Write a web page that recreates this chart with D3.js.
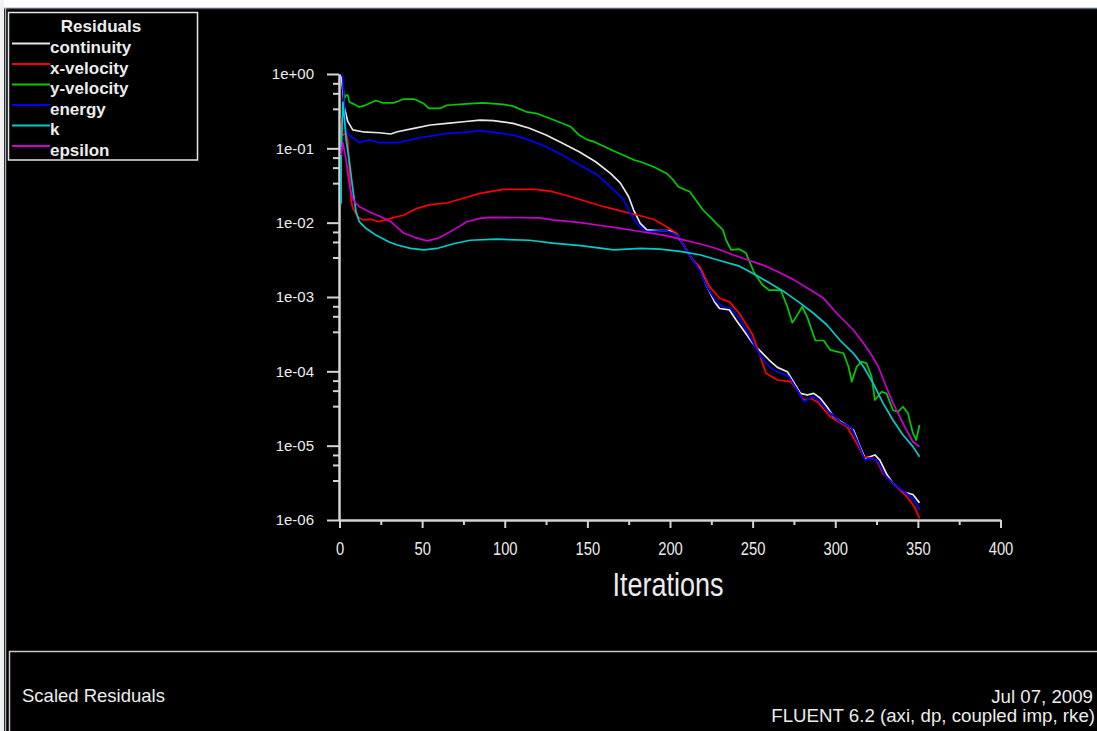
<!DOCTYPE html>
<html>
<head>
<meta charset="utf-8">
<script src="https://cdn.jsdelivr.net/npm/d3@7"></script>
<style>
  html, body { margin: 0; padding: 0; background: #000; }
  svg { display: block; }
  text { font-family: "Liberation Sans", Arial, sans-serif; }
</style>
</head>
<body>
<svg id="chart" width="1097" height="731"></svg>
<script>
// Scaled residual histories, [iteration, residual]
const continuity = [
  [1,1.0],[2,0.6],[3,0.35],[5,0.23],[8,0.177],[14,0.167],[24,0.162],[31,0.156],[35,0.167],
  [45,0.186],[55,0.206],[65,0.217],[75,0.228],[85,0.24],[93,0.236],[105,0.217],[115,0.186],
  [125,0.151],[135,0.117],[145,0.09],[155,0.066],[164,0.046],[170,0.034],[175,0.0223],
  [178,0.0148],[182,0.0098],[186,0.008],[192,0.0078],[200,0.0078],[204,0.007],[210,0.0043],
  [214,0.0031],[218,0.00243],[222,0.00145],[227,0.00086],[230,0.0007],[236,0.00067],
  [240,0.00049],[246,0.00032],[250,0.00024],[254,0.000194],[260,0.000142],[265,0.000113],
  [271,0.0000989],[274,0.0000764],[279,0.0000506],[283,0.000048],[287,0.0000506],
  [291,0.0000434],[295,0.0000334],[299,0.0000245],[305,0.00002],[311,0.0000163],
  [315,0.0000097],[318,0.0000068],[321,0.0000071],[324,0.0000075],[327,0.0000064],
  [331,0.0000042],[335,0.0000031],[341,0.0000024],[347,0.0000022],[351,0.0000017]
];
const xVelocity = [
  [1,0.25],[2,0.15],[4,0.16],[5,0.13],[6,0.05],[7,0.02],[8,0.016],[11,0.012],[14,0.0109],
  [19,0.0111],[24,0.0103],[31,0.0114],[39,0.0127],[47,0.0156],[55,0.0175],[65,0.0184],
  [75,0.0213],[85,0.0248],[99,0.0281],[119,0.0281],[129,0.0261],[140,0.0223],[150,0.0191],
  [160,0.0164],[170,0.0144],[180,0.0127],[190,0.0111],[198,0.0088],[204,0.0072],[210,0.0043],
  [214,0.0031],[218,0.00256],[224,0.00138],[230,0.00096],[236,0.00086],[242,0.0006],
  [250,0.00031],[254,0.000175],[258,0.000094],[265,0.0000764],[273,0.0000726],
  [277,0.0000561],[281,0.0000411],[285,0.0000434],[289,0.0000391],[297,0.0000245],
  [307,0.000018],[313,0.0000107],[317,0.0000071],[321,0.0000068],[325,0.0000064],
  [329,0.0000042],[335,0.0000031],[343,0.0000021],[348,0.0000015],[351,0.00000105]
];
const yVelocity = [
  [2,0.71],[3,0.47],[4,0.52],[5,0.52],[6,0.42],[8,0.4],[12,0.36],[15,0.375],[22,0.44],
  [26,0.41],[33,0.41],[39,0.46],[45,0.46],[51,0.4],[54,0.345],[61,0.345],[65,0.38],[79,0.4],
  [87,0.41],[99,0.39],[105,0.37],[113,0.31],[119,0.296],[129,0.244],[140,0.195],[145,0.151],
  [150,0.13],[154,0.123],[166,0.092],[178,0.07],[182,0.066],[190,0.0566],[194,0.051],
  [198,0.046],[202,0.0375],[205,0.0305],[212,0.0261],[220,0.0148],[226,0.0109],[228,0.0098],
  [232,0.008],[234,0.0058],[237,0.0043],[242,0.0044],[246,0.0039],[251,0.0021],[256,0.00145],
  [260,0.00124],[267,0.00124],[271,0.00074],[274,0.00045],[277,0.00057],[280,0.00074],
  [283,0.00054],[288,0.00026],[293,0.00026],[297,0.000194],[301,0.000184],[305,0.000175],
  [308,0.000116],[310,0.0000726],[313,0.000116],[316,0.000135],[319,0.000128],
  [322,0.0000848],[324,0.0000411],[328,0.0000532],[331,0.0000506],[335,0.00003],
  [338,0.0000286],[341,0.0000334],[344,0.0000272],[347,0.0000147],[349,0.0000119],
  [351,0.000019]
];
const energy = [
  [1,1.0],[2,0.9],[3,0.3],[4,0.168],[7,0.144],[12,0.12],[18,0.13],[24,0.119],[35,0.119],
  [43,0.13],[49,0.14],[55,0.146],[59,0.151],[65,0.159],[75,0.164],[85,0.173],[95,0.163],
  [105,0.151],[115,0.129],[125,0.105],[135,0.081],[145,0.06],[156,0.044],[166,0.0275],
  [172,0.0202],[176,0.0134],[180,0.0098],[184,0.008],[186,0.0076],[198,0.0078],[202,0.0072],
  [205,0.0065],[210,0.0043],[214,0.0031],[218,0.0023],[223,0.0013],[228,0.00086],
  [232,0.00074],[237,0.0007],[242,0.00052],[250,0.00025],[255,0.000157],[261,0.00011],
  [267,0.000094],[272,0.0000848],[277,0.0000561],[281,0.0000391],[286,0.0000456],
  [290,0.0000411],[296,0.0000286],[303,0.000021],[310,0.0000171],[314,0.0000107],
  [318,0.0000064],[322,0.0000068],[326,0.0000061],[330,0.000004],[336,0.00000296],
  [343,0.00000229],[348,0.00000186],[351,0.00000136]
];
const kResidual = [
  [1,0.018],[1,0.077],[2,0.42],[3,0.25],[4,0.13],[6,0.066],[8,0.029],[10,0.014],[12,0.0103],
  [16,0.0084],[22,0.0068],[30,0.0055],[35,0.005],[43,0.0045],[51,0.0043],[59,0.0045],
  [69,0.0052],[79,0.0058],[95,0.006],[115,0.0058],[129,0.0053],[146,0.0049],[166,0.0043],
  [182,0.0045],[194,0.0044],[206,0.0041],[218,0.0037],[230,0.0031],[242,0.0026],[248,0.0022],
  [259,0.0016],[269,0.00118],[279,0.00082],[287,0.0006],[295,0.00042],[303,0.00026],
  [311,0.000175],[317,0.000116],[323,0.000069],[329,0.000037],[335,0.000022],
  [341,0.0000139],[347,0.0000097],[351,0.0000071]
];
const epsilon = [
  [1,0.081],[2,0.12],[4,0.07],[6,0.032],[8,0.021],[10,0.018],[12,0.0164],[18,0.014],
  [25,0.012],[31,0.0103],[39,0.0072],[45,0.0064],[53,0.0057],[60,0.0062],[69,0.008],
  [77,0.0103],[85,0.0114],[91,0.0118],[121,0.0116],[129,0.0109],[146,0.01],[156,0.0093],
  [170,0.0084],[182,0.0076],[196,0.0068],[206,0.006],[218,0.0052],[228,0.0045],[238,0.0037],
  [248,0.0031],[258,0.0026],[265,0.0022],[275,0.0017],[285,0.00124],[293,0.00096],
  [301,0.0006],[311,0.00036],[317,0.00024],[322,0.000166],[326,0.000116],[330,0.000069],
  [335,0.000037],[339,0.0000245],[343,0.0000163],[347,0.0000113],[351,0.0000097]
];

const seriesNames  = ["continuity", "x-velocity", "y-velocity", "energy", "k", "epsilon"];
const seriesData   = [continuity, xVelocity, yVelocity, energy, kResidual, epsilon];
const seriesColors = ["#e8e8e8", "#ff0000", "#00cc00", "#0000ff", "#00cccc", "#cc00cc"];

const xTicks = [0, 50, 100, 150, 200, 250, 300, 350, 400];
const xMinorTicks = [25, 75, 125, 175, 225, 275, 325, 375];
const yTicks = [1e0, 1e-1, 1e-2, 1e-3, 1e-4, 1e-5, 1e-6];
const yMinorFactors = [7.5, 5.5, 3.4];

const svg = d3.select("#chart");
const W = 1097, H = 731;
const axisColor = "#d4d4d4";
const textColor = "#ececec";

// window frame
svg.append("rect").attr("x", 0).attr("y", 0).attr("width", W).attr("height", 8).attr("fill", "#ffffff");
svg.append("rect").attr("x", 0).attr("y", 0).attr("width", 4).attr("height", H).attr("fill", "#f0f0f0");
svg.append("line").attr("x1", 4).attr("x2", W).attr("y1", 8.5).attr("y2", 8.5)
  .attr("stroke", "#5a6470").attr("stroke-width", 1.5);
svg.append("line").attr("x1", 5.5).attr("x2", 5.5).attr("y1", 8).attr("y2", H)
  .attr("stroke", "#a8b4c0").attr("stroke-width", 1.5);

// caption panel
svg.append("line").attr("x1", 9).attr("x2", W).attr("y1", 651.5).attr("y2", 651.5)
  .attr("stroke", "#c8c8c8").attr("stroke-width", 1.5);
svg.append("line").attr("x1", 9.5).attr("x2", 9.5).attr("y1", 651).attr("y2", H)
  .attr("stroke", "#c8c8c8").attr("stroke-width", 1.5);

const x = d3.scaleLinear().domain([0, 400]).range([339.5, 1000.5]);
const y = d3.scaleLog().domain([1e-6, 1]).range([520, 74]);

// exponent label, e.g. 1e-03
const fmtExp = d => {
  const e = Math.round(Math.log10(d));
  const s = e < 0 ? "-" : "+";
  return "1e" + s + String(Math.abs(e)).padStart(2, "0");
};

// y axis
const yMinor = [];
for (let d = -6; d <= -1; d++) yMinorFactors.forEach(f => yMinor.push(f * Math.pow(10, d)));

const yMinorG = svg.append("g").attr("transform", "translate(339,0)")
  .call(d3.axisLeft(y).tickValues(yMinor).tickSize(6).tickSizeOuter(0).tickFormat(""));
const yG = svg.append("g").attr("transform", "translate(339,0)")
  .call(d3.axisLeft(y).tickValues(yTicks).tickSize(12).tickSizeOuter(0).tickPadding(13).tickFormat(fmtExp));
[yMinorG, yG].forEach(g => {
  g.selectAll("path.domain").attr("stroke", axisColor).attr("stroke-width", 2);
  g.selectAll(".tick line").attr("stroke", axisColor).attr("stroke-width", 2);
});
yG.selectAll(".tick text").attr("fill", textColor).attr("font-size", 15)
  .style("font-family", '"Liberation Sans", Arial, sans-serif');

// x axis
const xMinorG = svg.append("g").attr("transform", "translate(0,520)")
  .call(d3.axisBottom(x).tickValues(xMinorTicks).tickSize(5).tickSizeOuter(0).tickFormat(""));
const xG = svg.append("g").attr("transform", "translate(0,520)")
  .call(d3.axisBottom(x).tickValues(xTicks).tickSize(8).tickSizeOuter(0).tickPadding(14).tickFormat(d3.format("d")));
[xMinorG, xG].forEach(g => {
  g.selectAll("path.domain").attr("stroke", axisColor).attr("stroke-width", 2);
  g.selectAll(".tick line").attr("stroke", axisColor).attr("stroke-width", 2);
});
xG.selectAll(".tick text").attr("fill", textColor).attr("font-size", 18)
  .attr("transform", "scale(0.82,1)")
  .style("font-family", '"Liberation Sans", Arial, sans-serif');

svg.append("text")
  .attr("transform", "translate(668,596) scale(0.82,1)")
  .attr("text-anchor", "middle").attr("font-size", 33).attr("fill", textColor)
  .text("Iterations");

// residual curves
const line = d3.line().x(d => x(d[0])).y(d => y(d[1]));
svg.append("g").selectAll("path").data(seriesData).join("path")
  .attr("d", line)
  .attr("fill", "none")
  .attr("stroke", (d, i) => seriesColors[i])
  .attr("stroke-width", 1.7)
  .attr("stroke-linejoin", "round");

// legend
const legend = svg.append("g");
legend.append("rect").attr("x", 8.5).attr("y", 12.5).attr("width", 189).attr("height", 147.5)
  .attr("fill", "#000").attr("stroke", "#e6e6e6").attr("stroke-width", 1.5);
legend.append("text").attr("x", 101).attr("y", 32).attr("text-anchor", "middle")
  .attr("font-size", 17).attr("font-weight", "bold").attr("fill", textColor).text("Residuals");
const rows = legend.selectAll("g.row").data(seriesNames).join("g")
  .attr("class", "row")
  .attr("transform", (d, i) => `translate(0,${43.5 + i * 20.5})`);
rows.append("line").attr("x1", 12).attr("x2", 50).attr("y1", 0).attr("y2", 0)
  .attr("stroke", (d, i) => seriesColors[i]).attr("stroke-width", 2);
rows.append("text").attr("x", 50).attr("y", 9.5).attr("font-size", 17).attr("font-weight", "bold")
  .attr("fill", textColor).text(d => d);

// captions
svg.append("text").attr("x", 22).attr("y", 702).attr("font-size", 18.5).attr("fill", textColor)
  .text("Scaled Residuals");
svg.append("text").attr("x", 1093).attr("y", 703).attr("text-anchor", "end").attr("font-size", 18.7)
  .attr("fill", textColor).text("Jul 07, 2009");
svg.append("text").attr("x", 1095).attr("y", 722).attr("text-anchor", "end").attr("font-size", 18.7)
  .attr("fill", textColor).text("FLUENT 6.2 (axi, dp, coupled imp, rke)");
</script>
</body>
</html>
